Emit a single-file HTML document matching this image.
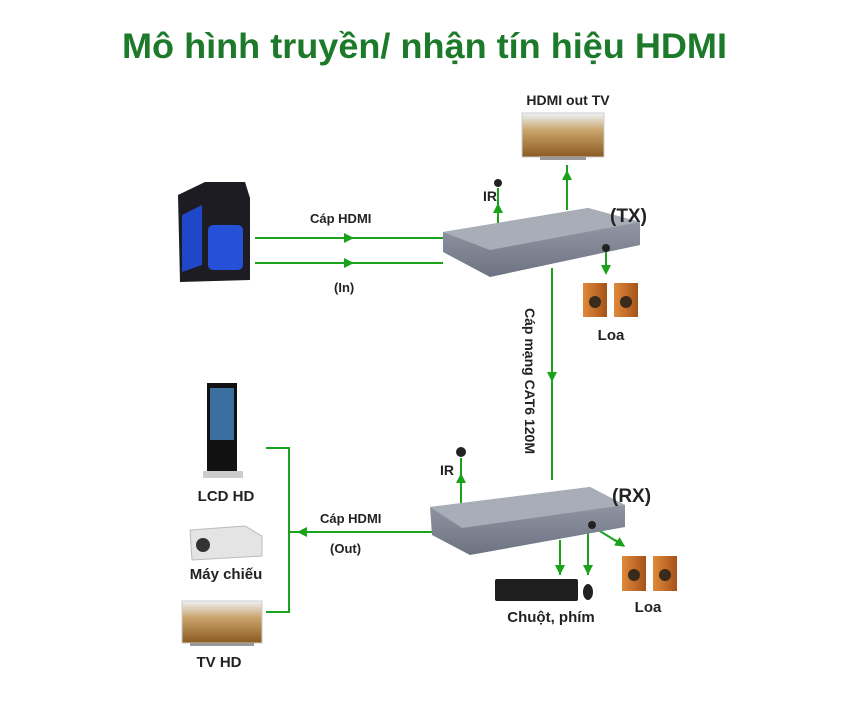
<!DOCTYPE html>
<html><head><meta charset="utf-8"><style>
body{margin:0;background:#fff}
svg{display:block}
text{font-family:"Liberation Sans",sans-serif;font-weight:bold;fill:#222}
</style></head><body>
<svg width="850" height="703" viewBox="0 0 850 703">
<defs>
<marker id="a" markerWidth="10" markerHeight="10" refX="5" refY="5" orient="auto" markerUnits="userSpaceOnUse"><path d="M0,0 L10,5 L0,10 z" fill="#1aa21a"/></marker>
<linearGradient id="box" x1="0" y1="0" x2="0" y2="1"><stop offset="0" stop-color="#9aa0ad"/><stop offset="1" stop-color="#6d7382"/></linearGradient>
<linearGradient id="wheat" x1="0" y1="0" x2="0" y2="1"><stop offset="0" stop-color="#eef3f8"/><stop offset="0.4" stop-color="#c9a46a"/><stop offset="1" stop-color="#8a5a22"/></linearGradient>
<linearGradient id="spk" x1="0" y1="0" x2="1" y2="0"><stop offset="0" stop-color="#e08a3a"/><stop offset="1" stop-color="#a5521a"/></linearGradient>
</defs>
<text x="122" y="58" textLength="605" lengthAdjust="spacingAndGlyphs" font-size="35" style="fill:#1d7a2a">Mô hình truyền/ nhận tín hiệu HDMI</text>

<g stroke="#1aa21a" stroke-width="2" fill="none">
<line x1="255" y1="238" x2="443" y2="238"/><line x1="255" y1="263" x2="443" y2="263"/>
<path d="M335,238 l14,0" marker-end="url(#a)"/><path d="M335,263 l14,0" marker-end="url(#a)"/>
<line x1="498" y1="232" x2="498" y2="188"/><path d="M498,218 l0,-10" marker-end="url(#a)"/>
<line x1="567" y1="210" x2="567" y2="165"/><path d="M567,185 l0,-10" marker-end="url(#a)"/>
<line x1="606" y1="248" x2="606" y2="272"/><path d="M606,262 l0,8" marker-end="url(#a)"/>
<line x1="552" y1="268" x2="552" y2="480"/><path d="M552,365 l0,12" marker-end="url(#a)"/>
<line x1="461" y1="505" x2="461" y2="458"/><path d="M461,488 l0,-10" marker-end="url(#a)"/>
<line x1="432" y1="532" x2="290" y2="532"/><path d="M312,532 l-10,0" marker-end="url(#a)"/>
<path d="M266,448 H289 V612 H266"/>
<line x1="560" y1="540" x2="560" y2="575"/><path d="M560,560 l0,10" marker-end="url(#a)"/>
<line x1="588" y1="530" x2="588" y2="575"/><path d="M588,560 l0,10" marker-end="url(#a)"/>
<line x1="595" y1="528" x2="624" y2="546"/><path d="M615,540 l6,4" marker-end="url(#a)"/>
</g>

<!-- PC -->
<path d="M178,195 L205,182 L245,182 L250,198 L250,280 L180,282 Z" fill="#1c1c22"/>
<rect x="208" y="225" width="35" height="45" rx="5" fill="#2550d8"/>
<path d="M182,215 L202,205 L202,265 L182,272 Z" fill="#1f48c8"/>

<!-- TX -->
<path d="M443,232 L588,208 L640,222 L640,245 L490,277 L443,252 Z" fill="url(#box)"/>
<path d="M443,232 L588,208 L640,222 L490,250 Z" fill="#a8adb8"/>
<circle cx="606" cy="248" r="4" fill="#222"/>
<circle cx="498" cy="183" r="4" fill="#222"/>

<!-- HDMI out TV -->
<rect x="522" y="113" width="82" height="44" fill="url(#wheat)" stroke="#ccc"/>
<rect x="540" y="157" width="46" height="3" fill="#999"/>
<text x="568" y="105" text-anchor="middle" font-size="14">HDMI out TV</text>
<text x="483" y="201" font-size="14">IR</text>
<text x="610" y="222" font-size="19">(TX)</text>
<text x="310" y="223" font-size="13">Cáp HDMI</text>
<text x="334" y="292" font-size="13">(In)</text>

<!-- speakers TX -->
<rect x="583" y="283" width="24" height="34" fill="url(#spk)"/><rect x="614" y="283" width="24" height="34" fill="url(#spk)"/>
<circle cx="595" cy="302" r="6" fill="#3a2a1a"/><circle cx="626" cy="302" r="6" fill="#3a2a1a"/>
<text x="611" y="340" text-anchor="middle" font-size="15">Loa</text>

<text transform="translate(525,308) rotate(90)" font-size="14">Cáp mạng CAT6 120M</text>

<!-- RX -->
<path d="M430,507 L590,487 L625,505 L625,527 L470,555 L432,535 Z" fill="url(#box)"/>
<path d="M430,507 L590,487 L625,505 L462,528 Z" fill="#a8adb8"/>
<circle cx="592" cy="525" r="4" fill="#222"/>
<circle cx="461" cy="452" r="5" fill="#222"/>
<text x="440" y="475" font-size="14">IR</text>
<text x="612" y="502" font-size="19">(RX)</text>
<text x="320" y="523" font-size="13">Cáp HDMI</text>
<text x="330" y="553" font-size="13">(Out)</text>

<!-- keyboard mouse -->
<rect x="495" y="579" width="83" height="22" rx="2" fill="#1e1e1e"/>
<ellipse cx="588" cy="592" rx="5" ry="8" fill="#222"/>
<text x="551" y="622" text-anchor="middle" font-size="15">Chuột, phím</text>
<rect x="622" y="556" width="24" height="35" fill="url(#spk)"/><rect x="653" y="556" width="24" height="35" fill="url(#spk)"/>
<circle cx="634" cy="575" r="6" fill="#3a2a1a"/><circle cx="665" cy="575" r="6" fill="#3a2a1a"/>
<text x="648" y="612" text-anchor="middle" font-size="15">Loa</text>

<!-- left devices -->
<rect x="207" y="383" width="30" height="88" fill="#111"/>
<rect x="210" y="388" width="24" height="52" fill="#3a6fa0"/>
<rect x="203" y="471" width="40" height="7" fill="#ccc"/>
<text x="226" y="501" text-anchor="middle" font-size="15">LCD HD</text>
<path d="M190,530 L245,526 L262,536 L262,556 L192,560 Z" fill="#e4e4e4" stroke="#bbb"/>
<circle cx="203" cy="545" r="7" fill="#333"/>
<text x="226" y="579" text-anchor="middle" font-size="15">Máy chiếu</text>
<rect x="182" y="601" width="80" height="42" fill="url(#wheat)" stroke="#ccc"/>
<rect x="190" y="643" width="64" height="3" fill="#999"/>
<text x="219" y="667" text-anchor="middle" font-size="15">TV HD</text>
</svg>
</body></html>
